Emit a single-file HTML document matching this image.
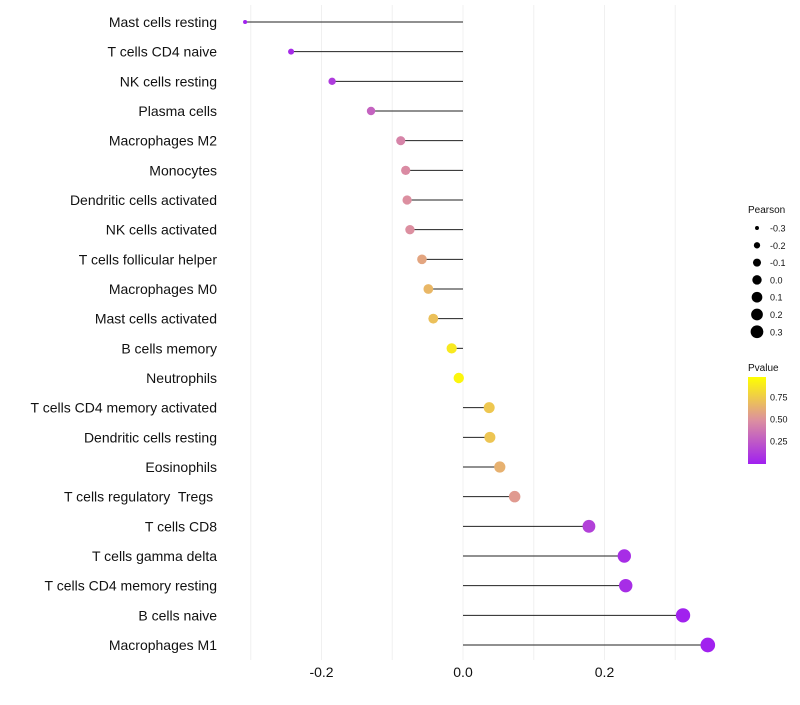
<!DOCTYPE html>
<html><head><meta charset="utf-8"><style>
body{margin:0;background:#fff;font-family:"Liberation Sans",sans-serif}
</style></head><body>
<svg id="chart" width="800" height="700" xmlns="http://www.w3.org/2000/svg">
<defs><linearGradient id="pg" x1="0" y1="1" x2="0" y2="0">
<stop offset="0" stop-color="#A020F0"/><stop offset="0.5" stop-color="#DC8FA0"/><stop offset="1" stop-color="#FFFF00"/></linearGradient></defs>
<g id="grid"></g><g id="marks"></g><g id="labels"></g><g id="legend"></g>
</svg>
<script>
const categories=["Mast cells resting","T cells CD4 naive","NK cells resting","Plasma cells","Macrophages M2","Monocytes","Dendritic cells activated","NK cells activated","T cells follicular helper","Macrophages M0","Mast cells activated","B cells memory","Neutrophils","T cells CD4 memory activated","Dendritic cells resting","Eosinophils","T cells regulatory  Tregs ","T cells CD8","T cells gamma delta","T cells CD4 memory resting","B cells naive","Macrophages M1"];
const pearson=[-0.308,-0.243,-0.185,-0.130,-0.088,-0.081,-0.079,-0.075,-0.058,-0.049,-0.042,-0.016,-0.006,0.037,0.038,0.052,0.073,0.178,0.228,0.230,0.311,0.346];
const pvalue=[0.01,0.05,0.12,0.30,0.45,0.48,0.50,0.50,0.60,0.68,0.72,0.90,0.96,0.75,0.74,0.65,0.55,0.15,0.06,0.06,0.01,0.005];
const xTicks=[-0.2,0.0,0.2];
const xMinor=[-0.3,-0.1,0.1,0.3];
const sizeLegend=[-0.3,-0.2,-0.1,0.0,0.1,0.2,0.3];
const pTicks=[0.25,0.50,0.75];
const NS="http://www.w3.org/2000/svg";
const x=v=>463+v*707.5;
const y=i=>22+i*(623/(categories.length-1));
const r=v=>Math.sqrt(4+(v+0.31)/0.66*50);
function hex(h){return [1,3,5].map(k=>parseInt(h.substr(k,2),16));}
const stops=[[0,hex("#A020F0")],[0.5,hex("#DC8FA0")],[1,hex("#FFFF00")]];
function col(p){let a=stops[0],b=stops[1];if(p>0.5){a=stops[1];b=stops[2];}
const t=(p-a[0])/(b[0]-a[0]);return "rgb("+a[1].map((c,k)=>Math.round(c+(b[1][k]-c)*t)).join(",")+")";}
function el(tag,attrs,parent,text){const e=document.createElementNS(NS,tag);for(const k in attrs)e.setAttribute(k,attrs[k]);if(text!==undefined)e.textContent=text;parent.appendChild(e);return e;}
const G=document.getElementById("grid"),M=document.getElementById("marks"),L=document.getElementById("labels"),LG=document.getElementById("legend");
xMinor.concat(xTicks).forEach(v=>{const g=el("line",{x1:x(v),x2:x(v),y1:5,y2:660,stroke:"#f0f0f0","stroke-width":1},G);

});
xTicks.forEach(v=>{const t=el("text",{x:x(v),y:677,"text-anchor":"middle","font-size":14,fill:"#111"},L,v.toFixed(1));

});
categories.forEach((c,i)=>{
const t=el("text",{x:217,y:y(i)+5,"text-anchor":"end","font-size":14,fill:"#111","xml:space":"preserve",style:"white-space:pre"},L,c);


const ln=el("line",{x1:x(0),x2:x(pearson[i]),y1:y(i),y2:y(i),stroke:"#222","stroke-width":1},M);


const d=el("circle",{cx:x(pearson[i]),cy:y(i),r:r(pearson[i]),fill:col(pvalue[i])},M);


});
const t1=el("text",{x:748,y:213,"font-size":10,fill:"#111"},LG,"Pearson");


sizeLegend.forEach((v,i)=>{const yy=228+i*17.3;
const c=el("circle",{cx:757,cy:yy,r:r(v)*0.9,fill:"#000"},LG);


const t=el("text",{x:770,y:yy+3.5,"font-size":9,fill:"#111"},LG,v.toFixed(1));

});
const t2=el("text",{x:748,y:371,"font-size":10,fill:"#111"},LG,"Pvalue");


const bar=el("rect",{x:748,y:377,width:18,height:87,fill:"url(#pg)"},LG);


pTicks.forEach(p=>{const yy=463-p*88;
const t=el("text",{x:770,y:yy+3.5,"font-size":9,fill:"#111"},LG,p.toFixed(2));

});
</script>
</body></html>
